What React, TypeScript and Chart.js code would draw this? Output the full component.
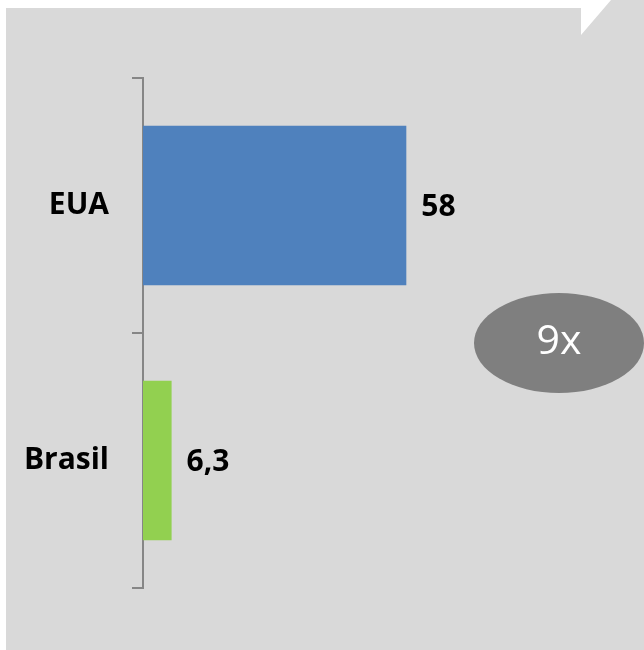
import React, { useEffect, useRef } from "react";
import { Chart, registerables } from "chart.js";

Chart.register(...registerables);

const categories = ["EUA", "Brasil"];
const values = [58, 6.3];
const valueLabels = ["58", "6,3"];
const barColors = ["#4f81bd", "#92d050"];
const badgeText = "9x";

const FONT = "'Open Sans', 'DejaVu Sans', sans-serif";

const backgroundPlugin = {
  id: "bgShape",
  beforeDraw(chart: any) {
    const { ctx, width, height } = chart;
    ctx.save();
    ctx.fillStyle = "#d9d9d9";
    ctx.beginPath();
    ctx.moveTo(6, 8);
    ctx.lineTo(581, 8);
    ctx.lineTo(581, 35);
    ctx.lineTo(611, 0);
    ctx.lineTo(width, 0);
    ctx.lineTo(width, height);
    ctx.lineTo(6, height);
    ctx.closePath();
    ctx.fill();
    ctx.restore();
  },
};

const labelsPlugin = {
  id: "valueLabels",
  afterDatasetsDraw(chart: any) {
    const { ctx } = chart;
    const meta = chart.getDatasetMeta(0);
    ctx.save();
    ctx.fillStyle = "#000000";
    ctx.font = `bold 30px ${FONT}`;
    ctx.textAlign = "left";
    ctx.textBaseline = "middle";
    meta.data.forEach((bar: any, i: number) => {
      ctx.fillText(valueLabels[i], bar.x + 15, bar.y + 2);
    });
    ctx.restore();
  },
  afterDraw(chart: any) {
    const { ctx } = chart;
    ctx.save();
    ctx.fillStyle = "#7f7f7f";
    ctx.beginPath();
    ctx.ellipse(559, 343, 85, 50, 0, 0, Math.PI * 2);
    ctx.fill();
    ctx.fillStyle = "#ffffff";
    ctx.font = `normal 41px ${FONT}`;
    ctx.textAlign = "center";
    ctx.textBaseline = "middle";
    ctx.fillText(badgeText, 559, 342);
    ctx.restore();
  },
};

export default function App() {
  const ref = useRef<HTMLCanvasElement | null>(null);
  useEffect(() => {
    if (!ref.current) return;
    const chart = new Chart(ref.current, {
      type: "bar",
      data: {
        labels: categories,
        datasets: [
          {
            data: values,
            backgroundColor: barColors,
            barPercentage: 0.625,
            categoryPercentage: 1,
          },
        ],
      },
      options: {
        indexAxis: "y",
        animation: false,
        responsive: false,
        maintainAspectRatio: false,
        layout: { padding: { top: 78, bottom: 62, left: 0, right: 47 } },
        plugins: { legend: { display: false }, tooltip: { enabled: false } },
        scales: {
          x: { display: false, min: 0, max: 100 },
          y: {
            afterFit(scale: any) {
              scale.width = 143;
            },
            border: { display: true, color: "#868686", width: 2 },
            grid: {
              display: true,
              drawOnChartArea: false,
              drawTicks: true,
              tickLength: 11,
              color: "#868686",
              lineWidth: 2,
              offset: true,
            },
            ticks: {
              color: "#000000",
              padding: 23,
              font: { family: FONT, weight: "bold", size: 30 },
            },
          },
        },
      },
      plugins: [backgroundPlugin, labelsPlugin],
    });
    return () => chart.destroy();
  }, []);
  return (
    <div style={{ position: "fixed", left: 0, top: 0, width: 644, height: 650 }}>
      <canvas ref={ref} width={644} height={650} style={{ display: "block" }} />
    </div>
  );
}
